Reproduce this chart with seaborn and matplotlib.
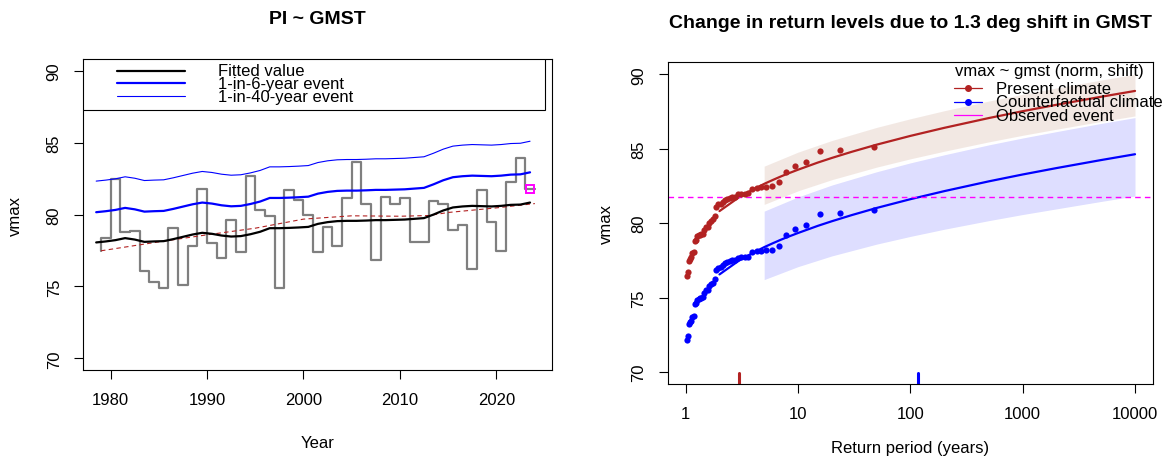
import numpy as np
import matplotlib
matplotlib.use("Agg")
import matplotlib.pyplot as plt
import seaborn as sns

# ---------------- annual maxima and fitted non-stationary model ----------------
years = np.arange(1979, 2025)
vmax = [77.48, 78.40, 82.50, 78.80, 78.87, 76.09, 75.28, 74.91, 79.05, 75.07,
        77.82, 81.74, 77.99, 77.01, 79.65, 77.41, 82.68, 80.32, 79.91, 74.91,
        81.69, 81.02, 79.95, 77.41, 79.14, 77.82, 81.13, 83.66, 80.72, 76.83,
        81.25, 80.76, 81.13, 78.10, 78.10, 80.95, 80.76, 78.91, 79.26, 76.20,
        81.69, 79.49, 77.48, 82.29, 83.96, 81.75]

fitted = [78.06, 78.13, 78.22, 78.36, 78.26, 78.10, 78.13, 78.15, 78.29, 78.45,
          78.61, 78.73, 78.66, 78.54, 78.47, 78.50, 78.63, 78.80, 79.05, 79.05,
          79.07, 79.10, 79.14, 79.35, 79.47, 79.54, 79.56, 79.56, 79.58, 79.61,
          79.61, 79.63, 79.65, 79.70, 79.75, 80.00, 80.28, 80.49, 80.56, 80.60,
          80.58, 80.56, 80.60, 80.67, 80.69, 80.83]

rl_6yr = [80.16, 80.23, 80.32, 80.46, 80.36, 80.20, 80.23, 80.25, 80.39, 80.55,
          80.71, 80.83, 80.76, 80.64, 80.57, 80.60, 80.73, 80.90, 81.15, 81.15,
          81.17, 81.20, 81.24, 81.45, 81.57, 81.64, 81.66, 81.66, 81.68, 81.71,
          81.71, 81.73, 81.75, 81.80, 81.85, 82.10, 82.38, 82.59, 82.66, 82.70,
          82.68, 82.66, 82.70, 82.77, 82.79, 82.93]

rl_40yr = [82.32, 82.39, 82.48, 82.62, 82.52, 82.36, 82.39, 82.41, 82.55, 82.71,
           82.87, 82.99, 82.92, 82.80, 82.73, 82.76, 82.89, 83.06, 83.31, 83.31,
           83.33, 83.36, 83.40, 83.61, 83.73, 83.80, 83.82, 83.82, 83.84, 83.87,
           83.87, 83.89, 83.91, 83.96, 84.01, 84.26, 84.54, 84.75, 84.82, 84.86,
           84.84, 84.82, 84.86, 84.93, 84.95, 85.09]

# smoothed trend of the series
trend_years = [1979, 1985, 1990, 1995, 2000, 2005, 2010, 2013, 2015, 2020, 2024]
trend_vals = [77.48, 78.10, 78.59, 79.05, 79.68, 79.91, 79.88, 79.93, 80.14, 80.46, 80.76]

event_year = 2024
event_value = 81.75

# ---------------- return level curves ----------------
rp_curve = [2, 3, 4, 5, 6, 7, 8, 10, 15, 20, 30, 50, 100, 200, 500,
            1000, 2000, 5000, 10000]
rl_present = [80.81, 81.75, 82.27, 82.64, 82.91, 83.13, 83.31, 83.59, 84.07, 84.38,
              84.79, 85.27, 85.86, 86.40, 87.06, 87.52, 87.95, 88.49, 88.88]
rl_counter = [76.56, 77.50, 78.02, 78.39, 78.66, 78.88, 79.06, 79.34, 79.82, 80.13,
              80.54, 81.02, 81.61, 82.15, 82.81, 83.27, 83.70, 84.24, 84.63]

rp_band = [5, 10, 20, 50, 100, 200, 500, 1000, 2000, 5000, 10000]
present_lo = [81.26, 82.17, 82.92, 83.76, 84.32, 84.83, 85.46, 85.90, 86.31, 86.83, 87.20]
present_hi = [83.83, 84.77, 85.55, 86.43, 87.01, 87.55, 88.20, 88.65, 89.08, 89.61, 90.00]
counter_lo = [76.21, 77.08, 77.80, 78.59, 79.11, 79.59, 80.17, 80.58, 80.96, 81.46, 81.82]
counter_hi = [80.81, 81.76, 82.56, 83.45, 84.05, 84.59, 85.26, 85.72, 86.15, 86.70, 87.09]

gmst_shift_effect = 4.25      # change in location for a 1.3 deg shift in GMST
rp_event_present = 3.0
rp_event_counter = 118.0

# ---------------- derived: values adjusted to present / counterfactual climate ----------------
vmax_arr = np.array(vmax)
fitted_arr = np.array(fitted)
present_vals = np.sort(vmax_arr - fitted_arr + fitted_arr[-1])[::-1]
counter_vals = present_vals - gmst_shift_effect
n = len(present_vals)
emp_rp = (n + 1) / np.arange(1, n + 1)

# ---------------- styling ----------------
sns.set_theme(style="ticks")
plt.rcParams["font.family"] = ["Liberation Sans", "DejaVu Sans"]
plt.rcParams["axes.edgecolor"] = "black"
plt.rcParams["axes.linewidth"] = 0.8
plt.rcParams["text.color"] = "black"
plt.rcParams["axes.labelcolor"] = "black"
plt.rcParams["xtick.color"] = "black"
plt.rcParams["ytick.color"] = "black"
plt.rcParams["xtick.labelcolor"] = "black"
plt.rcParams["ytick.labelcolor"] = "black"

FIRE = "#B22222"
BLUE = "#0000FF"
MAG = "#FF00FF"
FS = 12

fig = plt.figure(figsize=(11.63, 4.6), dpi=100)
fig.patch.set_facecolor("white")

ax1 = fig.add_axes([0.0716, 0.1935, 0.4033, 0.676])
ax2 = fig.add_axes([0.5741, 0.163, 0.4173, 0.6993])

for ax in (ax1, ax2):
    ax.set_facecolor("white")
    for sp in ax.spines.values():
        sp.set_visible(True)
        sp.set_color("black")
        sp.set_linewidth(0.8)
    ax.tick_params(axis="both", direction="out", length=6.5, width=0.8,
                   color="black", labelcolor="black", labelsize=FS, pad=9)
    ax.grid(False)

# ---------------- left panel: trend plot ----------------
mid = years - 0.5
sns.lineplot(x=years, y=vmax, ax=ax1, drawstyle="steps-pre", color="black",
             alpha=0.5, lw=1.6, estimator=None)
sns.lineplot(x=trend_years, y=trend_vals, ax=ax1, color=FIRE, lw=0.8,
             linestyle=(0, (4, 3)), estimator=None)
sns.lineplot(x=mid, y=fitted, ax=ax1, color="black", lw=1.6, estimator=None)
sns.lineplot(x=mid, y=rl_6yr, ax=ax1, color=BLUE, lw=1.6, estimator=None)
sns.lineplot(x=mid, y=rl_40yr, ax=ax1, color=BLUE, lw=0.8, estimator=None)
ax1.plot([event_year - 0.5], [event_value], marker="s", ms=5.5, mfc="none",
         mec=MAG, mew=1.4, ls="none")

ax1.set_xlim(1977.16, 2025.81)
ax1.set_ylim(69.2, 90.8)
ax1.set_xticks([1980, 1990, 2000, 2010, 2020])
ax1.set_yticks([70, 75, 80, 85, 90])
ax1.set_xlabel("Year", fontsize=FS)
ax1.set_ylabel("vmax", fontsize=FS)
ax1.xaxis.set_label_coords(0.5, -0.21)
ax1.yaxis.set_label_coords(-0.128, 0.5)
ax1.set_title("PI ~ GMST", fontsize=14, fontweight="bold", pad=26)

# legend box across the top of the panel
ax1.add_patch(plt.Rectangle((0, 0.836), 0.9844, 0.164, transform=ax1.transAxes,
                            fill=True, facecolor="white", edgecolor="black",
                            lw=0.8, zorder=5))
leg_rows = [0.9624, 0.9219, 0.8801]
leg_items = [("Fitted value", "black", 1.6), ("1-in-6-year event", BLUE, 1.6),
             ("1-in-40-year event", BLUE, 0.8)]
for yy, (lab, col, lw) in zip(leg_rows, leg_items):
    ax1.plot([0.0712, 0.2169], [yy, yy], transform=ax1.transAxes, color=col,
             lw=lw, zorder=6, clip_on=False)
    ax1.text(0.2872, yy, lab, transform=ax1.transAxes, fontsize=FS,
             va="center", ha="left", zorder=6)

# ---------------- right panel: return level plot ----------------
ax2.set_xscale("log")
ax2.fill_between(rp_band, present_lo, present_hi, color="#A0522D", alpha=0.13, lw=0)
ax2.fill_between(rp_band, counter_lo, counter_hi, color=BLUE, alpha=0.13, lw=0)
sns.lineplot(x=rp_curve, y=rl_present, ax=ax2, color=FIRE, lw=1.6, estimator=None)
sns.lineplot(x=rp_curve, y=rl_counter, ax=ax2, color=BLUE, lw=1.6, estimator=None)
sns.scatterplot(x=emp_rp, y=present_vals, ax=ax2, color=FIRE, s=20,
                linewidth=0, zorder=4)
sns.scatterplot(x=emp_rp, y=counter_vals, ax=ax2, color=BLUE, s=20,
                linewidth=0, zorder=4)
ax2.axhline(event_value, color=MAG, lw=1.0, linestyle=(0, (4, 3)))
ax2.axvline(rp_event_present, ymin=0, ymax=0.034, color=FIRE, lw=2.2)
ax2.axvline(rp_event_counter, ymin=0, ymax=0.034, color=BLUE, lw=2.2)

ax2.set_xlim(10 ** -0.16, 10 ** 4.16)
ax2.set_ylim(69.2, 90.8)
ax2.set_xticks([1, 10, 100, 1000, 10000])
ax2.set_xticklabels(["1", "10", "100", "1000", "10000"])
ax2.xaxis.set_minor_locator(matplotlib.ticker.NullLocator())
ax2.set_yticks([70, 75, 80, 85, 90])
ax2.set_xlabel("Return period (years)", fontsize=FS)
ax2.set_ylabel("vmax", fontsize=FS)
ax2.xaxis.set_label_coords(0.5, -0.175)
ax2.yaxis.set_label_coords(-0.111, 0.5)
ax2.set_title("Change in return levels due to 1.3 deg shift in GMST",
              fontsize=14, fontweight="bold", pad=25.5)

# legend without frame, top right
FS2 = 12
ax2.text(0.592, 0.974, "vmax ~ gmst (norm, shift)", transform=ax2.transAxes,
         fontsize=FS2, va="center", ha="left", clip_on=False)
leg2_rows = [0.919, 0.878, 0.836]
leg2_items = [("Present climate", FIRE, True), ("Counterfactual climate", BLUE, True),
              ("Observed event", MAG, False)]
for yy, (lab, col, dot) in zip(leg2_rows, leg2_items):
    ax2.plot([0.590, 0.648], [yy, yy], transform=ax2.transAxes, color=col,
             lw=0.9, clip_on=False)
    if dot:
        ax2.plot([0.619], [yy], transform=ax2.transAxes, color=col, marker="o",
                 ms=4, ls="none", clip_on=False)
    ax2.text(0.677, yy, lab, transform=ax2.transAxes, fontsize=FS2,
             va="center", ha="left", clip_on=False)

for ax in (ax1, ax2):
    for lab in ax.get_yticklabels():
        lab.set_rotation(90)
        lab.set_va("center")

fig.savefig("out.png", dpi=100, facecolor="white")
